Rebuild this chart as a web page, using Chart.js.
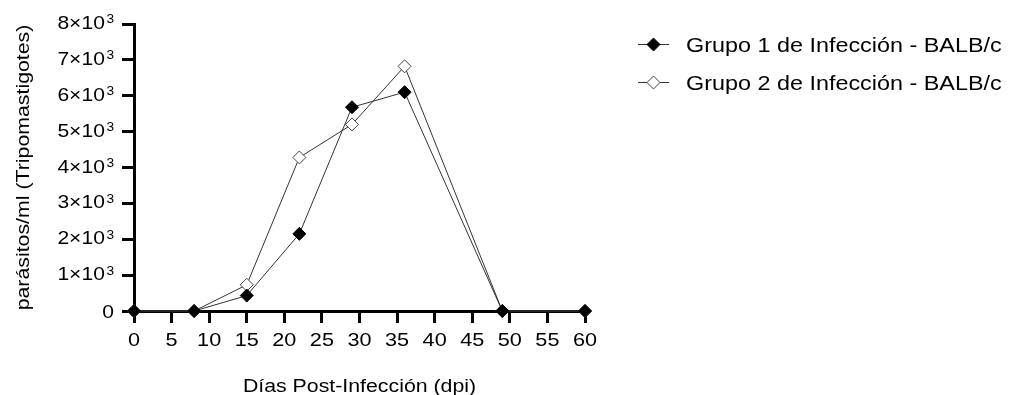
<!DOCTYPE html>
<html>
<head>
<meta charset="utf-8">
<script src="https://cdn.jsdelivr.net/npm/chart.js@4/dist/chart.umd.min.js"></script>
<style>
  html, body { margin: 0; padding: 0; background: #ffffff; }
  #wrap { width: 1011px; height: 395px; }
</style>
</head>
<body>
<div id="wrap"><canvas id="chart" width="1011" height="395"></canvas></div>
<script>
// Days post-infection at which parasitaemia was measured
const days = [0, 8, 15, 22, 29, 36, 49, 60];
// Parasites per ml (trypomastigotes) for each infection group
const grupo1 = [0, 0, 430, 2150, 5680, 6100, 0, 0];
const grupo2 = [0, 0, 730, 4280, 5200, 6820, 0, 0];
const seriesNames = ['Grupo 1 de Infección - BALB/c', 'Grupo 2 de Infección - BALB/c'];
// Axis ticks
const xTicks = [0, 5, 10, 15, 20, 25, 30, 35, 40, 45, 50, 55, 60];
const yTicks = [0, 1000, 2000, 3000, 4000, 5000, 6000, 7000, 8000];
const xTitle = 'Días Post-Infección (dpi)';
const yTitle = 'parásitos/ml (Tripomastigotes)';

const FONT = "'Liberation Sans', Arial, sans-serif";
const WIDE = 1.14;        // horizontal widening of the lettering
const CAP = 0.716;        // cap height as a fraction of font size

const toXY = (vals) => days.map((d, i) => ({ x: d, y: vals[i] }));

// Draw text whose cap-height centre sits at (x, y), widened along its direction
function wideText(ctx, text, x, y, size, align, rotated) {
  ctx.save();
  ctx.translate(x, y);
  if (rotated) ctx.rotate(-Math.PI / 2);
  ctx.scale(WIDE, 1);
  ctx.font = size + 'px ' + FONT;
  ctx.textAlign = align;
  ctx.textBaseline = 'alphabetic';
  ctx.fillStyle = '#000';
  ctx.fillText(text, 0, size * CAP / 2);
  ctx.restore();
}

function textWidth(ctx, text, size) {
  ctx.save();
  ctx.font = size + 'px ' + FONT;
  const w = ctx.measureText(text).width * WIDE;
  ctx.restore();
  return w;
}

// Tick labels, axis titles and the side legend
const axisText = {
  id: 'axisText',
  afterDraw(chart) {
    const ctx = chart.ctx;
    const xs = chart.scales.x;
    const ys = chart.scales.y;
    const area = chart.chartArea;

    // x tick labels
    xs.ticks.forEach(t => {
      wideText(ctx, String(t.value), xs.getPixelForValue(t.value), 339, 19, 'center');
    });

    // y tick labels in the form n×10³
    const labelRight = 114;
    const mainSize = 18.5, supSize = 12;
    ys.ticks.forEach(t => {
      const y = ys.getPixelForValue(t.value);
      if (t.value === 0) {
        wideText(ctx, '0', labelRight, y, mainSize, 'right');
        return;
      }
      const supW = textWidth(ctx, '3', supSize);
      const yc = y - 1.5;
      wideText(ctx, '3', labelRight, yc - mainSize * CAP / 2 - 1 + supSize * CAP / 2, supSize, 'right');
      wideText(ctx, (t.value / 1000) + '×10', labelRight - supW - 1.5, yc, mainSize, 'right');
    });

    // axis titles
    wideText(ctx, xTitle, (area.left + area.right) / 2, 385, 18.7, 'center');
    wideText(ctx, yTitle, 22, (area.top + area.bottom) / 2, 18.7, 'center', true);

    // legend: short line with the series marker, then the label
    const rows = [44.5, 82.5];
    chart.data.datasets.forEach((ds, i) => {
      const y = rows[i];
      ctx.save();
      ctx.strokeStyle = ds.borderColor;
      ctx.lineWidth = 1;
      ctx.beginPath();
      ctx.moveTo(638, y);
      ctx.lineTo(669, y);
      ctx.stroke();
      ctx.fillStyle = ds.pointBackgroundColor;
      ctx.strokeStyle = ds.pointBorderColor;
      ctx.lineWidth = ds.pointBorderWidth;
      Chart.helpers.drawPoint(ctx, { pointStyle: 'rectRot', radius: ds.pointRadius, borderWidth: ds.pointBorderWidth }, 653.5, y);
      ctx.restore();
      wideText(ctx, seriesNames[i], 686, y, 20.5, 'left');
    });
  }
};

const axisGrid = {
  drawOnChartArea: false,
  drawTicks: true,
  tickLength: 12,
  tickWidth: 3,
  tickColor: '#000'
};

new Chart(document.getElementById('chart'), {
  type: 'line',
  data: {
    datasets: [
      {
        label: seriesNames[0],
        data: toXY(grupo1),
        borderColor: '#333333',
        borderWidth: 1,
        pointStyle: 'rectRot',
        pointRadius: 6.5,
        pointBackgroundColor: '#000000',
        pointBorderColor: '#000000',
        pointBorderWidth: 1,
        tension: 0,
        clip: false
      },
      {
        label: seriesNames[1],
        data: toXY(grupo2),
        borderColor: '#333333',
        borderWidth: 1,
        pointStyle: 'rectRot',
        pointRadius: 6.5,
        pointBackgroundColor: '#ffffff',
        pointBorderColor: '#444444',
        pointBorderWidth: 1,
        tension: 0,
        clip: false
      }
    ]
  },
  options: {
    responsive: false,
    animation: false,
    devicePixelRatio: 1,
    layout: { padding: { left: 0, right: 426, top: 24, bottom: 0 } },
    plugins: {
      legend: { display: false },
      tooltip: { enabled: false }
    },
    scales: {
      x: {
        type: 'linear',
        min: 0,
        max: 60,
        afterBuildTicks(scale) { scale.ticks = xTicks.map(v => ({ value: v })); },
        afterFit(scale) { scale.height = 84; },
        ticks: { display: false },
        grid: axisGrid,
        border: { display: true, width: 3, color: '#000' },
        title: { display: false }
      },
      y: {
        type: 'linear',
        min: 0,
        max: 8000,
        afterBuildTicks(scale) { scale.ticks = yTicks.map(v => ({ value: v })); },
        afterFit(scale) { scale.width = 134; },
        ticks: { display: false },
        grid: axisGrid,
        border: { display: true, width: 3, color: '#000' },
        title: { display: false }
      }
    }
  },
  plugins: [axisText]
});
</script>
</body>
</html>
